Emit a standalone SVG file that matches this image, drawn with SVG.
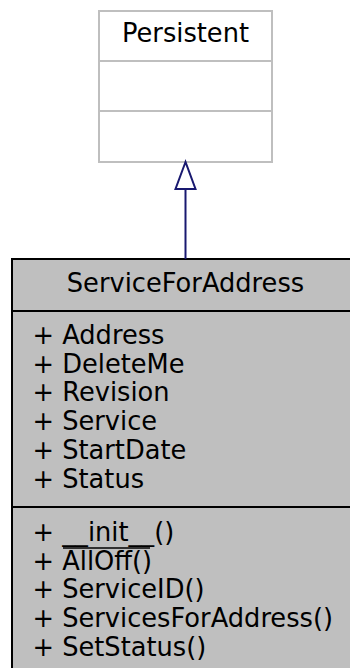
<svg xmlns="http://www.w3.org/2000/svg" width="350" height="668" viewBox="0 0 350 668">
<style>
text{font-family:"DejaVu Sans",sans-serif;font-size:25.7px;fill:#000}
.c{text-anchor:middle}
.p{fill:#fff;stroke:#bfbfbf;stroke-width:2}
.s{fill:#bfbfbf;stroke:#000;stroke-width:2}
.e{fill:none;stroke:#191970;stroke-width:2}
</style>
<rect width="350" height="668" fill="#fff"/>
<g id="Persistent">
<rect class="p" x="99" y="11" width="173" height="151"/>
<line class="p" x1="99" y1="61" x2="272" y2="61"/>
<line class="p" x1="99" y1="111" x2="272" y2="111"/>
<text class="c" x="185.5" y="42">Persistent</text>
</g>
<g id="ServiceForAddress">
<rect class="s" x="12" y="259" width="348" height="420"/>
<line class="s" x1="12" y1="311" x2="360" y2="311"/>
<line class="s" x1="12" y1="507" x2="360" y2="507"/>
<text class="c" x="185.5" y="292">ServiceForAddress</text>
<text x="32.5" y="344">+ Address</text>
<text x="32.5" y="372.7">+ DeleteMe</text>
<text x="32.5" y="401.4">+ Revision</text>
<text x="32.5" y="430">+ Service</text>
<text x="32.5" y="458.8">+ StartDate</text>
<text x="32.5" y="487.5">+ Status</text>
<text x="32.5" y="541">+ __init__()</text>
<text x="32.5" y="569.7">+ AllOff()</text>
<line x1="63" y1="548" x2="150" y2="548" stroke="#000" stroke-width="1.5"/>
<text x="32.5" y="598.4">+ ServiceID()</text>
<text x="32.5" y="627">+ ServicesForAddress()</text>
<text x="32.5" y="655.8">+ SetStatus()</text>
</g>
<g id="connectors">
<line class="e" x1="185.5" y1="189" x2="185.5" y2="259"/>
<polygon class="e" points="185.5,162 175.5,189 195.5,189"/>
</g>
</svg>
